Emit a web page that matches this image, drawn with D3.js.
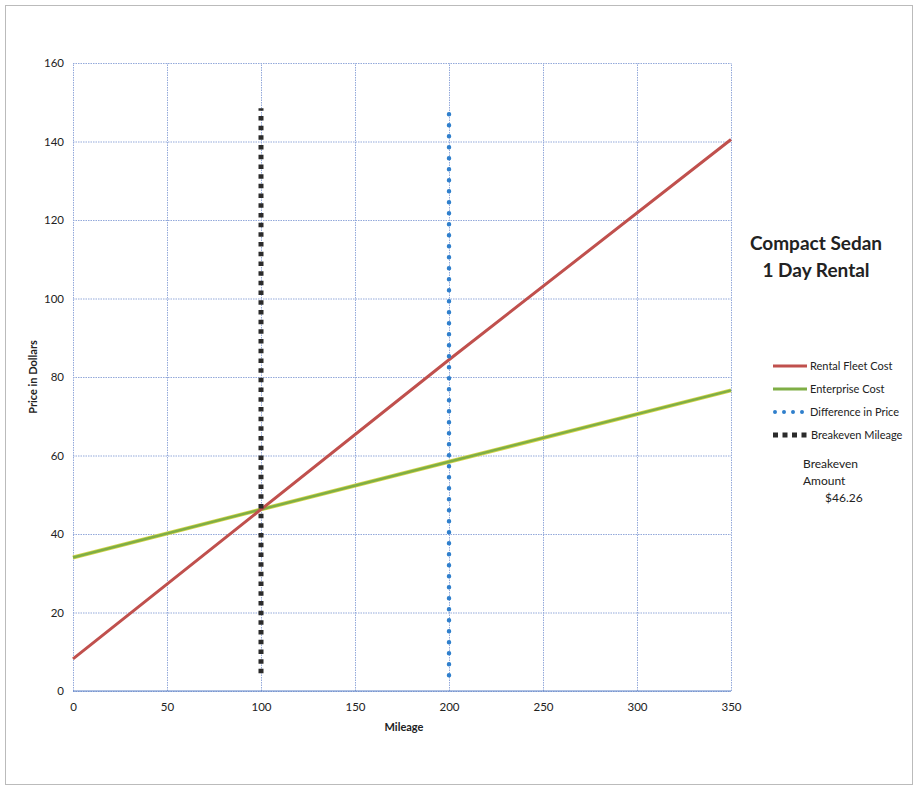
<!DOCTYPE html>
<html>
<head>
<meta charset="utf-8">
<script src="https://cdn.jsdelivr.net/npm/d3@7"></script>
<style>
  body { margin: 0; background: #fff; }
  text { font-family: Lato, "Open Sans", sans-serif; fill: #222; }
</style>
</head>
<body>
<svg width="918" height="790"></svg>
<script>
// values
var rentalFleet = [[0, 8.2], [100, 46.26], [200, 84.4], [350, 140.5]]
var enterprise = [[0, 34], [100, 46.26], [200, 58.4], [350, 76.6]]
var difference = [[200, 4], [200, 147]]
var breakeven = [[100, 4.5], [100, 148.5]]
var xTicks = [0, 50, 100, 150, 200, 250, 300, 350]
var yTicks = [0, 20, 40, 60, 80, 100, 120, 140, 160]
var legendNames = ['Rental Fleet Cost', 'Enterprise Cost', 'Difference in Price', 'Breakeven Mileage']
var breakevenAmount = '$46.26'

var svg = d3.select('svg')
var margin = { top: 63, left: 73 }
var width = 658
var height = 628

// scanned page frame
svg.append('rect')
  .attr('x', 5.5).attr('y', 5.5)
  .attr('width', 907).attr('height', 779)
  .attr('fill', 'none')
  .attr('stroke', '#bbb')
  .attr('stroke-width', 1)

var g = svg.append('g')
  .attr('transform', 'translate(' + margin.left + ',' + margin.top + ')')

var x = d3.scaleLinear().domain([0, 350]).range([0, width])
var y = d3.scaleLinear().domain([0, 160]).range([height, 0])

// gridlines
g.append('g')
  .attr('transform', 'translate(0,' + height + ')')
  .call(d3.axisBottom(x).tickValues(xTicks).tickSize(-height).tickFormat(''))
  .call(function (s) { s.select('.domain').remove() })
  .selectAll('line')
  .attr('stroke', '#93a9da')
  .attr('stroke-dasharray', '1.5,1')

g.append('g')
  .call(d3.axisLeft(y).tickValues(yTicks).tickSize(-width).tickFormat(''))
  .call(function (s) { s.select('.domain').remove() })
  .selectAll('line')
  .attr('stroke', '#93a9da')
  .attr('stroke-dasharray', '1.5,1')

// zero axis line
g.append('line')
  .attr('x1', 0).attr('x2', width)
  .attr('y1', y(0)).attr('y2', y(0))
  .attr('stroke', '#5f82c6')
  .attr('stroke-width', 1)

// tick labels
var xAxis = g.append('g')
  .attr('transform', 'translate(0,' + height + ')')
  .call(d3.axisBottom(x).tickValues(xTicks).tickSize(0).tickPadding(12))
xAxis.select('.domain').remove()
xAxis.selectAll('text').style('font-family', 'Lato, sans-serif').style('font-size', '11.5px').attr('fill', '#222')

var yAxis = g.append('g')
  .call(d3.axisLeft(y).tickValues(yTicks).tickSize(0).tickPadding(9))
yAxis.select('.domain').remove()
yAxis.selectAll('text').style('font-family', 'Lato, sans-serif').style('font-size', '11.5px').attr('fill', '#222')

// axis titles
svg.append('text')
  .attr('transform', 'translate(37,' + (margin.top + y(80)) + ') rotate(-90)')
  .attr('text-anchor', 'middle')
  .style('font-size', '11px')
  .style('font-weight', 'bold')
  .text('Price in Dollars')

svg.append('text')
  .attr('x', 404).attr('y', 731)
  .attr('text-anchor', 'middle')
  .style('font-size', '11px')
  .style('font-weight', 'bold')
  .text('Mileage')

var line = d3.line()
  .x(function (d) { return x(d[0]) })
  .y(function (d) { return y(d[1]) })

g.append('path')
  .datum(enterprise)
  .attr('fill', 'none')
  .attr('stroke', '#d6d64a')
  .attr('stroke-width', 4)
  .attr('d', line)
g.append('path')
  .datum(enterprise)
  .attr('fill', 'none')
  .attr('stroke', '#7fae45')
  .attr('stroke-width', 2.5)
  .attr('d', line)

g.append('path')
  .datum(rentalFleet)
  .attr('fill', 'none')
  .attr('stroke', '#c0504d')
  .attr('stroke-width', 3)
  .attr('d', line)

g.append('path')
  .datum(breakeven)
  .attr('fill', 'none')
  .attr('stroke', '#2b2b2b')
  .attr('stroke-width', 5)
  .attr('stroke-dasharray', '4.5,5.2')
  .attr('d', line)

g.append('path')
  .datum(difference)
  .attr('fill', 'none')
  .attr('stroke', '#2f7fcc')
  .attr('stroke-width', 4.5)
  .attr('stroke-linecap', 'round')
  .attr('stroke-dasharray', '0,11')
  .attr('d', line)

// title
svg.append('text')
  .attr('x', 816).attr('y', 250)
  .attr('text-anchor', 'middle')
  .style('font-size', '19px')
  .style('font-weight', 'bold')
  .text('Compact Sedan')
svg.append('text')
  .attr('x', 816).attr('y', 277)
  .attr('text-anchor', 'middle')
  .style('font-size', '19px')
  .style('font-weight', 'bold')
  .text('1 Day Rental')

// legend
var legend = svg.append('g').attr('transform', 'translate(773,366)')
var styles = [
  { stroke: '#c0504d', width: 3, dash: null, cap: 'butt' },
  { stroke: '#7fae45', width: 3, dash: null, cap: 'butt' },
  { stroke: '#2f7fcc', width: 4, dash: '0,9', cap: 'round' },
  { stroke: '#2b2b2b', width: 5, dash: '5,4.5', cap: 'butt' }
]
legendNames.forEach(function (name, i) {
  var row = legend.append('g').attr('transform', 'translate(0,' + (i * 23) + ')')
  row.append('line')
    .attr('x1', i === 2 ? 2 : 0).attr('x2', i === 3 ? 37 : 34)
    .attr('y1', 0).attr('y2', 0)
    .attr('stroke', styles[i].stroke)
    .attr('stroke-width', styles[i].width)
    .attr('stroke-linecap', styles[i].cap)
    .attr('stroke-dasharray', styles[i].dash)
  row.append('text')
    .attr('x', i === 3 ? 38 : 37).attr('y', 4)
    .style('font-size', '11px')
    .text(name)
})

// breakeven amount note
svg.append('text').attr('x', 803).attr('y', 468).style('font-size', '12px').text('Breakeven')
svg.append('text').attr('x', 803).attr('y', 485).style('font-size', '12px').text('Amount')
svg.append('text').attr('x', 825).attr('y', 502).style('font-size', '12px').text(breakevenAmount)
</script>
</body>
</html>
